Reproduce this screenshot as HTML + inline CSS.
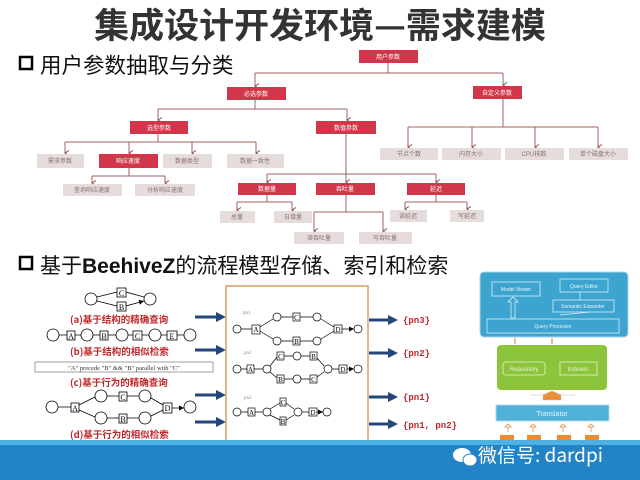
<!DOCTYPE html>
<html><head><meta charset="utf-8"><style>
html,body{margin:0;padding:0;background:#fff;}
svg{display:block;font-family:"Liberation Sans","Noto Sans CJK SC",sans-serif;}
</style></head><body>
<svg width="640" height="480" viewBox="0 0 640 480" xmlns="http://www.w3.org/2000/svg">
<defs>
<marker id="ar" markerWidth="6" markerHeight="6" refX="3" refY="5" orient="auto" markerUnits="userSpaceOnUse">
<path d="M0.5,1 L3,5 L5.5,1" fill="none" stroke="#8a4a48" stroke-width="1"/></marker>
<marker id="pa" markerWidth="6" markerHeight="6" refX="5" refY="3" orient="auto" markerUnits="userSpaceOnUse">
<path d="M0,0.5 L5,3 L0,5.5 z" fill="#000"/></marker>
</defs>
<rect width="640" height="480" fill="#fff"/>
<text x="320" y="38" text-anchor="middle" font-size="35" font-weight="bold" fill="#333" font-family="'Noto Sans CJK SC',sans-serif">集成设计开发环境—需求建模</text>

<!-- headings -->
<rect x="20" y="57" width="12" height="12" fill="none" stroke="#000" stroke-width="2.5"/>
<text x="40" y="73" font-size="21.5" fill="#111">用户参数抽取与分类</text>
<rect x="20" y="257" width="12" height="12" fill="none" stroke="#000" stroke-width="2.5"/>
<text x="40" y="273" font-size="21" fill="#111">基于<tspan font-weight="bold">BeehiveZ</tspan>的流程模型存储、索引和检索</text>

<!-- tree lines -->
<g stroke="#a06060" stroke-width="1" fill="none">
<path d="M388,63V73M255,73H503"/>
<path d="M255,73V86" marker-end="url(#ar)"/><path d="M503,73V85" marker-end="url(#ar)"/>
<path d="M255,100V109M158,109H347"/>
<path d="M158,109V120" marker-end="url(#ar)"/><path d="M347,109V120" marker-end="url(#ar)"/>
<path d="M158,134V142M65,142H256"/>
<path d="M65,142V153" marker-end="url(#ar)"/><path d="M129,142V153" marker-end="url(#ar)"/><path d="M192,142V153" marker-end="url(#ar)"/><path d="M256,142V153" marker-end="url(#ar)"/>
<path d="M129,168V176M92,176H165"/>
<path d="M92,176V183" marker-end="url(#ar)"/><path d="M165,176V183" marker-end="url(#ar)"/>
<path d="M346,134V174M267,174H436"/>
<path d="M267,174V182" marker-end="url(#ar)"/><path d="M346,174V182" marker-end="url(#ar)"/><path d="M436,174V182" marker-end="url(#ar)"/>
<path d="M267,195V202M237,202H292"/>
<path d="M237,202V210" marker-end="url(#ar)"/><path d="M292,202V210" marker-end="url(#ar)"/>
<path d="M346,195V212M314,212H383"/>
<path d="M314,212V231" marker-end="url(#ar)"/><path d="M383,212V231" marker-end="url(#ar)"/>
<path d="M436,195V202M405,202H467"/>
<path d="M405,202V209" marker-end="url(#ar)"/><path d="M467,202V209" marker-end="url(#ar)"/>
<path d="M503,99V127M408,127H598"/>
<path d="M408,127V147" marker-end="url(#ar)"/><path d="M472,127V147" marker-end="url(#ar)"/><path d="M535,127V147" marker-end="url(#ar)"/><path d="M598,127V147" marker-end="url(#ar)"/>
</g>
<!-- tree nodes -->
<g font-size="6" text-anchor="middle">
<g fill="#d2364a">
<rect x="359" y="50" width="59" height="13"/><rect x="227" y="87" width="59" height="13"/><rect x="473" y="86" width="49" height="13"/>
<rect x="130" y="121" width="58" height="13"/><rect x="316" y="121" width="60" height="13"/>
<rect x="99" y="154" width="59" height="14"/>
<rect x="238" y="183" width="58" height="12"/><rect x="316" y="183" width="59" height="12"/><rect x="407" y="183" width="58" height="12"/>
</g>
<g fill="#fff">
<text x="388" y="59">用户参数</text><text x="256" y="96">必选参数</text><text x="497" y="95">自定义参数</text>
<text x="159" y="130">选型参数</text><text x="346" y="130">数值参数</text><text x="128" y="163">响应速度</text>
<text x="267" y="191">数据量</text><text x="345" y="191">吞吐量</text><text x="436" y="191">延迟</text>
</g>
<g fill="#e6dcdc">
<rect x="37" y="154" width="47" height="14"/><rect x="163" y="154" width="49" height="14"/><rect x="227" y="154" width="57" height="14"/>
<rect x="63" y="184" width="59" height="12"/><rect x="135" y="184" width="60" height="12"/>
<rect x="220" y="211" width="35" height="12"/><rect x="274" y="211" width="38" height="12"/>
<rect x="294" y="232" width="50" height="12"/><rect x="359" y="232" width="53" height="12"/>
<rect x="390" y="210" width="37" height="12"/><rect x="450" y="210" width="34" height="12"/>
<rect x="380" y="148" width="58" height="12"/><rect x="442" y="148" width="59" height="12"/><rect x="505" y="148" width="59" height="12"/><rect x="569" y="148" width="59" height="12"/>
</g>
<g fill="#8a7070">
<text x="60" y="163">需求参数</text><text x="187" y="163">数据类型</text><text x="255" y="163">数据一致性</text>
<text x="92" y="192">查询响应速度</text><text x="165" y="192">分析响应速度</text>
<text x="237" y="219">总量</text><text x="293" y="219">日增量</text>
<text x="319" y="240">读吞吐量</text><text x="385" y="240">写吞吐量</text>
<text x="408" y="218">读延迟</text><text x="467" y="218">写延迟</text>
<text x="409" y="156">节点个数</text><text x="471" y="156">内存大小</text><text x="534" y="156">CPU核数</text><text x="598" y="156">单个磁盘大小</text>
</g>
</g>

<!-- left queries -->
<g stroke="#000" stroke-width="0.8" fill="#fff" font-size="8" font-family="'Liberation Serif',serif">
<circle cx="91" cy="299" r="6"/><circle cx="150" cy="299" r="6"/>
<path d="M97,297L117,292M97,301L117,306M126,292L144,297M126,306L144,301" marker-end="url(#pa)" fill="none"/>
<rect x="117" y="288" width="9" height="9"/><rect x="117" y="302" width="9" height="9"/>
<circle cx="53" cy="335" r="6"/><rect x="67" y="331" width="8" height="9"/><circle cx="87" cy="335" r="6"/><rect x="100" y="331" width="8" height="9"/><circle cx="122" cy="335" r="6"/><rect x="133" y="331" width="9" height="9"/><circle cx="155" cy="335" r="6"/><rect x="167" y="331" width="10" height="9"/><circle cx="190" cy="335" r="6"/>
<path d="M59,335H67M75,335H81M93,335H100M108,335H116M128,335H133M142,335H149M161,335H167M177,335H184" fill="none"/>
<circle cx="52" cy="407" r="6"/><rect x="71" y="403" width="8" height="9"/>
<circle cx="101" cy="396" r="6"/><rect x="119" y="392" width="8" height="9"/><circle cx="145" cy="396" r="6"/>
<circle cx="101" cy="418" r="6"/><rect x="119" y="414" width="8" height="9"/><circle cx="145" cy="418" r="6"/>
<rect x="163" y="403" width="9" height="10"/><circle cx="190" cy="407" r="6"/>
<path d="M58,407H71M79,405L95,397M79,410L95,417M107,396H119M127,396H139M107,418H119M127,418H139M151,398L163,405M151,416L163,410M172,408H184" fill="none" marker-end="url(#pa)"/>
<g fill="#000" stroke="none" text-anchor="middle">
<text x="121.5" y="296">C</text><text x="121.5" y="310">B</text>
<text x="71" y="339">A</text><text x="104" y="339">B</text><text x="137.5" y="339">C</text><text x="172" y="339">E</text>
<text x="75" y="411">A</text><text x="123" y="400">C</text><text x="123" y="422">B</text><text x="167.5" y="411">D</text>
</g>
</g>
<g fill="#c0282c" font-size="9.5" font-weight="bold" font-family="'Noto Sans CJK SC',sans-serif">
<text x="70" y="323">(a)基于结构的精确查询</text><text x="70" y="355">(b)基于结构的相似检索</text>
<text x="70" y="386">(c)基于行为的精确查询</text><text x="70" y="438">(d)基于行为的相似检索</text>
</g>
<rect x="35" y="362" width="178" height="10" fill="#fff" stroke="#888" stroke-width="0.8"/>
<text x="124" y="370" text-anchor="middle" font-size="6.5" fill="#333" font-family="'Liberation Serif',serif">"A" precede "B"  &amp;&amp;  "B" parallel with "C"</text>

<!-- arrows -->
<g fill="#23477a">
<path d="M195,315.5H216V312L226,317L216,322V318.5H195z"/>
<path d="M195,348.5H216V345L226,350L216,355V351.5H195z"/>
<path d="M195,393.5H216V390L226,395L216,400V396.5H195z"/>
<path d="M195,420.5H216V417L226,422L216,427V423.5H195z"/>
<path d="M369,318.5H388V315L398,320L388,325V321.5H369z"/>
<path d="M369,351.5H388V348L398,353L388,358V354.5H369z"/>
<path d="M369,395.5H388V392L398,397L388,402V398.5H369z"/>
<path d="M369,422.5H388V419L398,424L388,429V425.5H369z"/>
</g>
<g fill="#c0282c" font-size="9" font-family="'Liberation Mono',monospace" font-weight="bold">
<text x="403" y="323">{pn3}</text><text x="403" y="356">{pn2}</text><text x="403" y="400">{pn1}</text><text x="403" y="428">{pn1, pn2}</text>
</g>

<!-- center box -->
<rect x="226" y="286" width="142" height="158" fill="#fff" stroke="#d9a063" stroke-width="1.5"/>
<g stroke="#000" stroke-width="0.7" fill="#fff" font-size="7" font-family="'Liberation Serif',serif">
<circle cx="237" cy="329" r="4"/><rect x="252" y="325" width="8" height="9"/>
<circle cx="277" cy="317" r="4"/><rect x="293" y="313" width="7" height="8"/><circle cx="317" cy="317" r="4"/>
<circle cx="277" cy="341" r="4"/><rect x="293" y="337" width="7" height="8"/><circle cx="317" cy="341" r="4"/>
<rect x="334" y="325" width="8" height="8"/><circle cx="358" cy="329" r="4"/>
<path d="M241,329H252M260,327L273,319M260,331L273,339M281,317H293M300,317H313M281,341H293M300,341H313M321,319L334,327M321,339L334,331M342,329H354" fill="none" marker-end="url(#pa)"/>
<circle cx="237" cy="369" r="4"/><rect x="247" y="365" width="7" height="8"/><circle cx="267" cy="369" r="4"/>
<rect x="277" y="352" width="7" height="8"/><circle cx="297" cy="356" r="4"/><rect x="310" y="352" width="7" height="8"/>
<rect x="277" y="375" width="7" height="8"/><circle cx="297" cy="379" r="4"/><rect x="310" y="375" width="7" height="8"/>
<circle cx="328" cy="369" r="4"/><rect x="339" y="365" width="8" height="8"/><circle cx="358" cy="369" r="4"/>
<path d="M241,369H247M254,369H263M270,366L277,357M270,372L277,378M284,356H293M301,356H310M284,379H293M301,379H310M317,358L324,366M317,377L324,372M332,369H339M347,369H354" fill="none" marker-end="url(#pa)"/>
<circle cx="237" cy="412" r="4"/><rect x="248" y="408" width="7" height="8"/><circle cx="267" cy="412" r="4"/>
<rect x="280" y="398" width="6" height="8"/><rect x="280" y="417" width="6" height="8"/>
<circle cx="298" cy="412" r="4"/><rect x="309" y="408" width="8" height="8"/><circle cx="327" cy="412" r="4"/>
<path d="M241,412H248M255,412H263M270,409L280,403M270,415L280,420M286,403L294,409M286,420L294,415M302,412H309M317,412H323" fill="none" marker-end="url(#pa)"/>
<g fill="#000" stroke="none" text-anchor="middle">
<text x="256" y="332">A</text><text x="296.5" y="320">C</text><text x="296.5" y="344">B</text><text x="338" y="332">D</text>
<text x="250.5" y="372">A</text><text x="280.5" y="359">C</text><text x="313.5" y="359">B</text><text x="280.5" y="382">B</text><text x="313.5" y="382">C</text><text x="343" y="372">D</text>
<text x="251.5" y="415">A</text><text x="283" y="405">C</text><text x="283" y="424">B</text><text x="313" y="415">D</text>
</g>
<g fill="#888" stroke="none" font-size="5"><text x="243" y="314">pn1</text><text x="244" y="354">pn2</text><text x="244" y="399">pn3</text></g>
</g>

<!-- architecture -->
<rect x="480" y="272" width="148" height="65" rx="4" fill="#3da3cf" stroke="#a9d8ee" stroke-width="1"/>
<g fill="none" stroke="#d6eef8" stroke-width="0.8">
<rect x="492" y="282" width="48" height="14"/><rect x="560" y="279" width="48" height="13"/><rect x="553" y="300" width="61" height="12"/><rect x="487" y="319" width="132" height="14"/>
<path d="M511,318V302h-3l5,-5l5,5h-3V318z"/><path d="M580,292V300M560,315L590,312"/>
</g>
<g fill="#e8f6fc" font-size="5" text-anchor="middle"><text x="516" y="291">Model Viewer</text><text x="584" y="288">Query Editor</text><text x="583" y="308">Semantic Expander</text><text x="553" y="328">Query Processor</text></g>
<path d="M515,338V344M552,338V344" stroke="#d89050" stroke-width="1.2"/>
<rect x="497" y="345" width="110" height="45" rx="4" fill="#8cc43c"/>
<rect x="503" y="362" width="42" height="13" rx="3" fill="none" stroke="#e6f4d0" stroke-width="0.8"/>
<rect x="560" y="362" width="37" height="13" fill="none" stroke="#e6f4d0" stroke-width="0.8"/>
<g fill="#e6f4d0" font-size="6" text-anchor="middle"><text x="524" y="371">Repository</text><text x="578" y="371">Indexes</text></g>
<path d="M530,395H575M543,400V395l9,-4l9,4v5z" fill="#f08a2a" stroke="#bbb" stroke-width="0.6"/>
<rect x="496" y="405" width="113" height="16" fill="#4fb0d8" stroke="#b0dcef"/>
<text x="552" y="416" text-anchor="middle" font-size="7" fill="#e8f6fc">Translator</text>
<g fill="none" stroke="#e09050" stroke-width="0.8"><path d="M508,432V427l-3,0l3,-3l3,3h-3M533,432V427l-3,0l3,-3l3,3h-3M563,432V427l-3,0l3,-3l3,3h-3M591,432V427l-3,0l3,-3l3,3h-3"/></g>
<g fill="#f08a2a"><rect x="500" y="435" width="14" height="8"/><rect x="527" y="435" width="14" height="8"/><rect x="557" y="435" width="14" height="8"/><rect x="585" y="435" width="14" height="8"/></g>

<!-- bottom bar -->
<rect x="0" y="440" width="640" height="40" fill="#2283c6"/>
<rect x="0" y="440" width="640" height="5" fill="#4db2e2"/>
<ellipse cx="462" cy="455" rx="9" ry="7" fill="#fff"/><ellipse cx="470" cy="460" rx="7" ry="6" fill="#fff" stroke="#2283c6" stroke-width="1"/>
<text x="478" y="462" font-size="19" fill="#fff" font-family="'Noto Sans CJK SC',sans-serif">微信号: dardpi</text>
</svg>
</body></html>
